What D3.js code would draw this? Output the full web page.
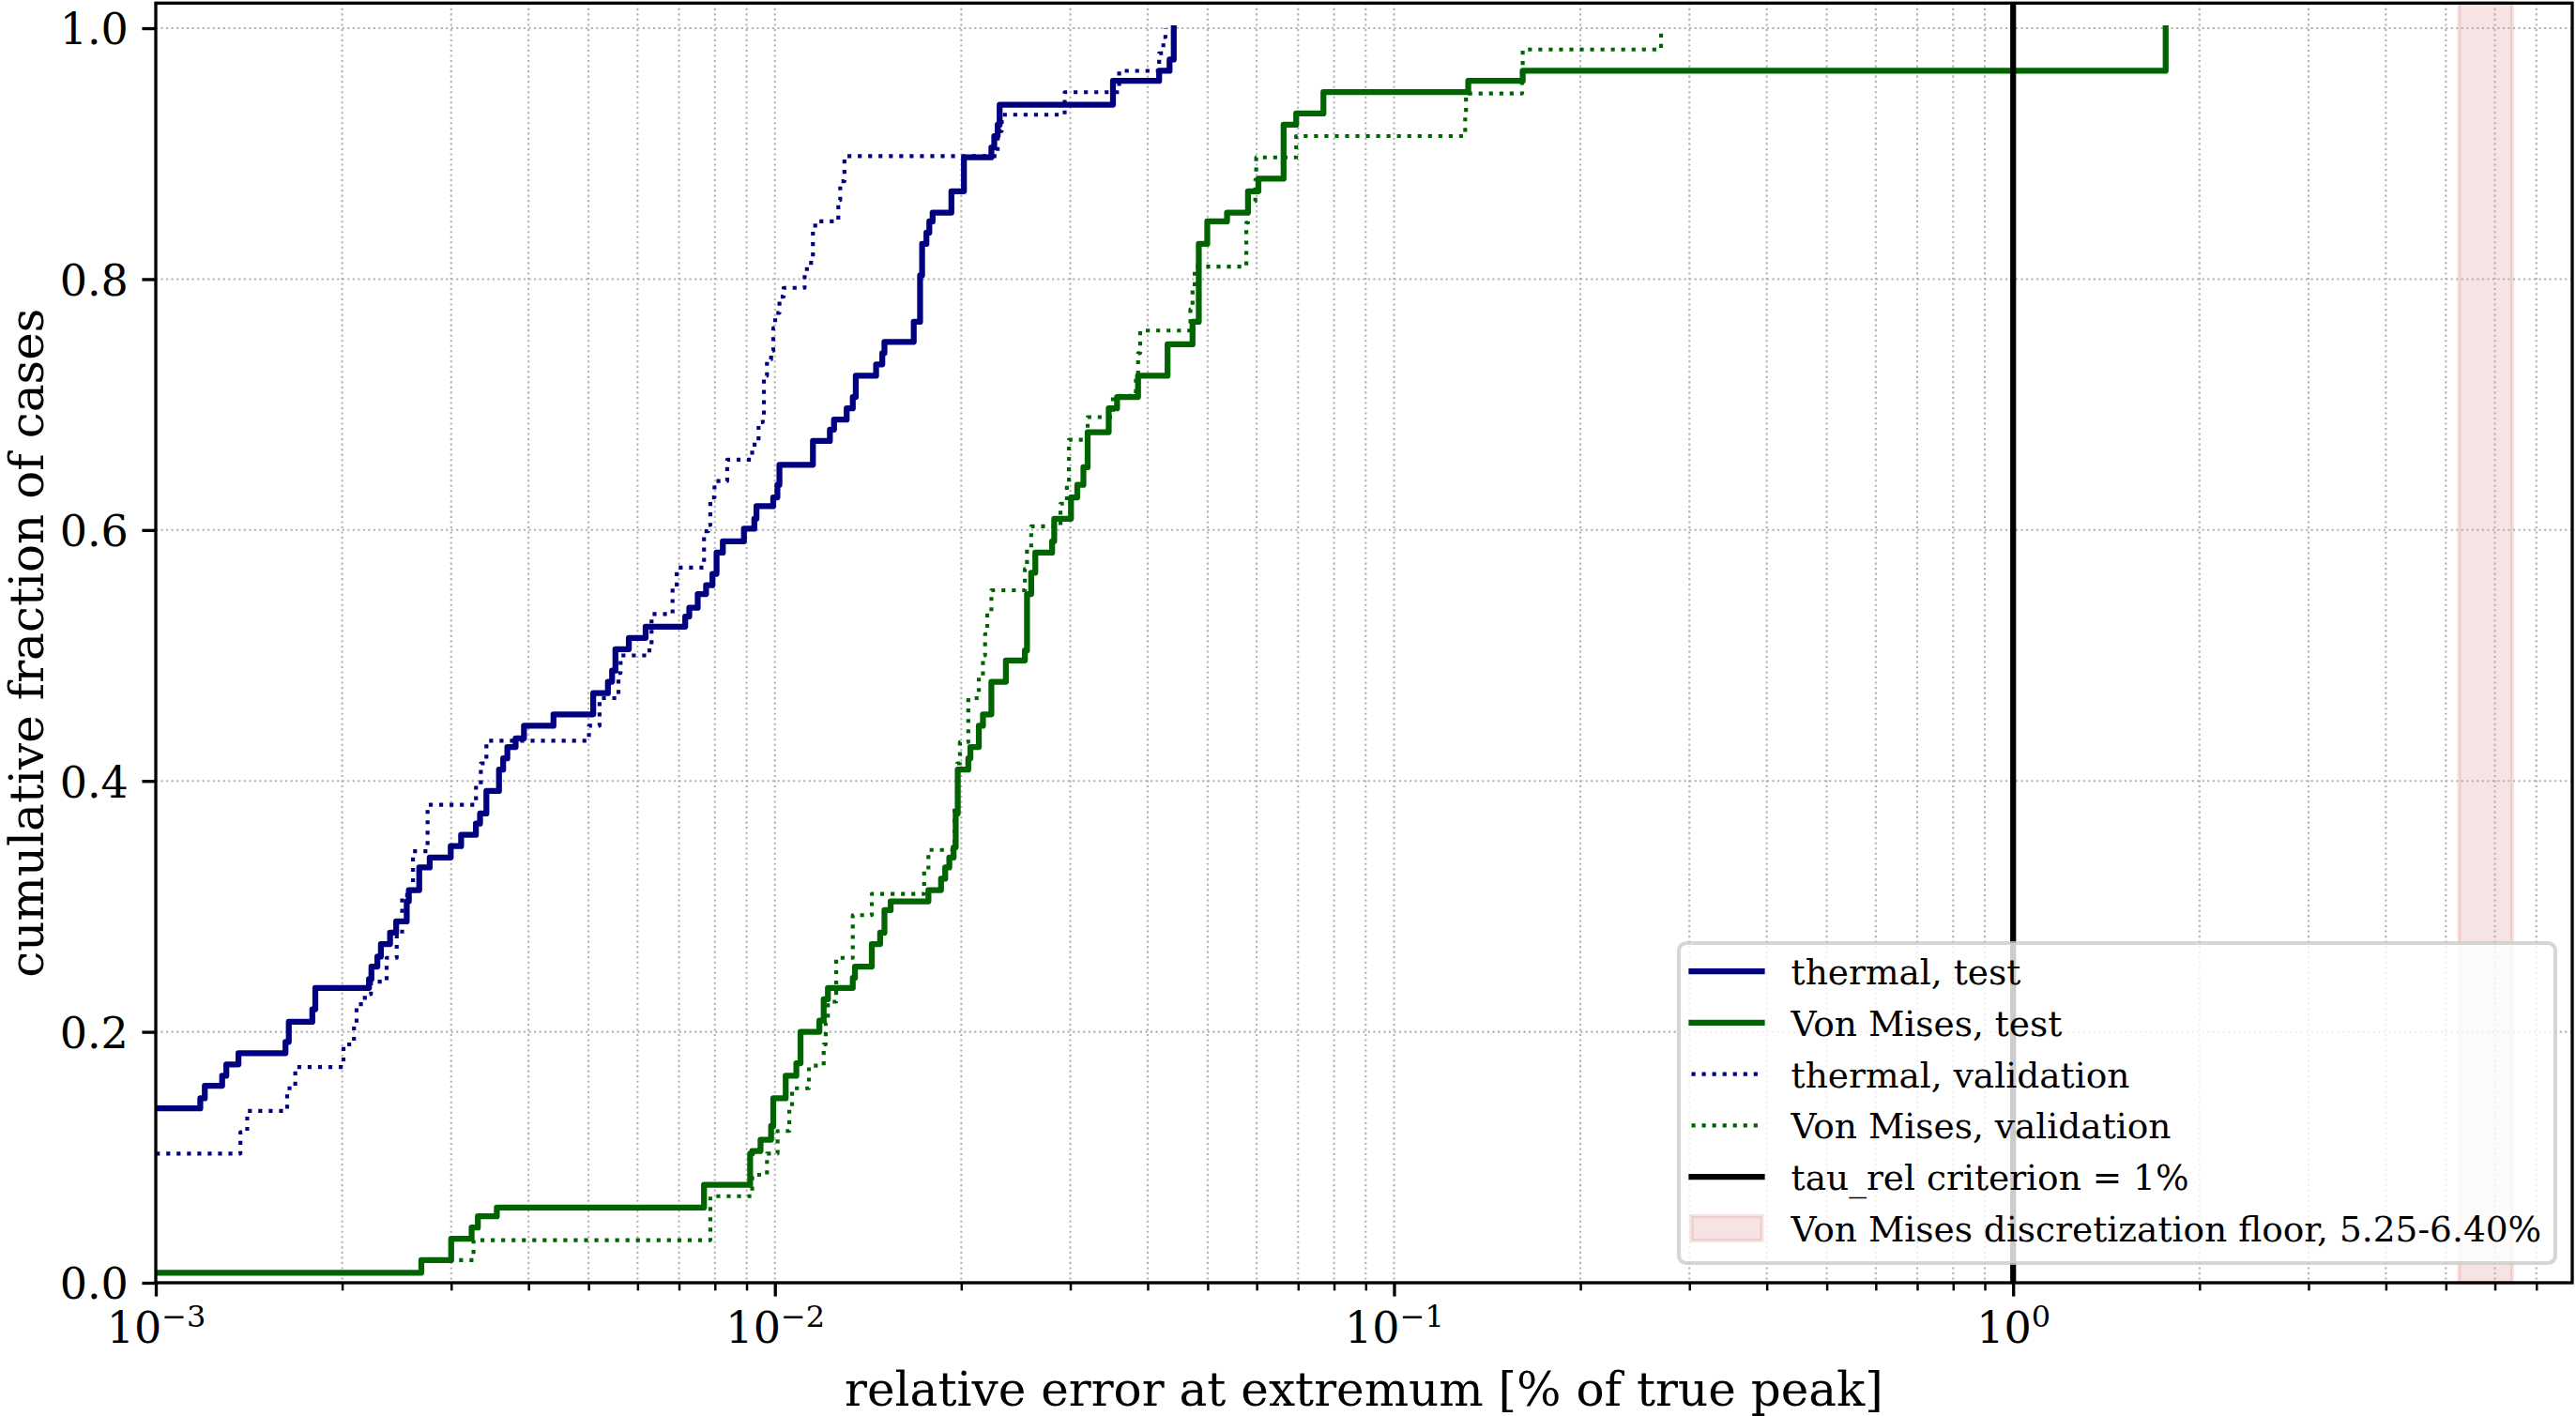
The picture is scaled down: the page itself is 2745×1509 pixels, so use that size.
<!DOCTYPE html>
<html>
<head>
<meta charset="utf-8">
<script src="https://cdn.jsdelivr.net/npm/d3@7/dist/d3.min.js"></script>
<style>
    body { margin: 0; background: #fff; }
    svg { display: block; font-family: "DejaVu Serif", serif; }
</style>
</head>
<body>
<svg id="chart" width="2745" height="1509"></svg>
<script>
// ECDF steps: [relative error in %, cumulative fraction]
// each pair = the level the curve jumps to at that error value
var thermalTest = [
    [0.0005, 0.139], [0.00118, 0.147], [0.00120, 0.157], [0.00128, 0.165], [0.00130, 0.174],
    [0.00136, 0.183], [0.00162, 0.192], [0.00164, 0.208], [0.00179, 0.218], [0.00181, 0.235],
    [0.00221, 0.242], [0.00223, 0.252], [0.00228, 0.260], [0.00231, 0.270], [0.00239, 0.279],
    [0.002445, 0.288], [0.002543, 0.304], [0.002563, 0.313], [0.002664, 0.331], [0.00277, 0.339],
    [0.002995, 0.348], [0.003113, 0.357], [0.003289, 0.366], [0.00334, 0.374], [0.00342, 0.392],
    [0.003584, 0.409], [0.00364, 0.418], [0.003697, 0.427], [0.003813, 0.434], [0.003933, 0.444],
    [0.004389, 0.453], [0.005088, 0.470], [0.005374, 0.479], [0.005458, 0.488], [0.005526, 0.505],
    [0.005809, 0.514], [0.006183, 0.523], [0.007164, 0.531], [0.007273, 0.538], [0.007505, 0.549],
    [0.007742, 0.556], [0.007927, 0.565], [0.00805, 0.582], [0.00824, 0.591], [0.008913, 0.601],
    [0.009264, 0.609], [0.009338, 0.619], [0.009938, 0.626], [0.010094, 0.636], [0.01017, 0.652],
    [0.01152, 0.671], [0.01227, 0.680], [0.01246, 0.688], [0.01306, 0.697], [0.01336, 0.706],
    [0.01351, 0.723], [0.01457, 0.732], [0.01491, 0.741], [0.01503, 0.750], [0.01676, 0.766],
    [0.01716, 0.803], [0.01729, 0.828], [0.01757, 0.837], [0.01776, 0.846], [0.01798, 0.853],
    [0.01928, 0.870], [0.02020, 0.897], [0.02237, 0.905], [0.02261, 0.914], [0.02290, 0.923],
    [0.02307, 0.939], [0.03516, 0.958], [0.04175, 0.966], [0.04340, 0.975], [0.04408, 1.0]
];

var vonMisesTest = [
    [0.0005, 0.008], [0.002685, 0.018], [0.0030, 0.035], [0.003237, 0.044], [0.003313, 0.053],
    [0.003555, 0.060], [0.007683, 0.078], [0.00912, 0.103], [0.00919, 0.105], [0.00948, 0.114],
    [0.00986, 0.125], [0.00994, 0.147], [0.01041, 0.165], [0.01083, 0.175], [0.0110, 0.200],
    [0.0118, 0.209], [0.01199, 0.226], [0.01218, 0.235], [0.01336, 0.243], [0.01347, 0.252],
    [0.01434, 0.270], [0.01479, 0.279], [0.01503, 0.297], [0.01538, 0.304], [0.0177, 0.313],
    [0.01855, 0.322], [0.01884, 0.331], [0.01913, 0.339], [0.01944, 0.347], [0.01959, 0.374],
    [0.01974, 0.409], [0.02053, 0.418], [0.02069, 0.427], [0.02135, 0.444], [0.02168, 0.453],
    [0.02237, 0.479], [0.02361, 0.496], [0.02534, 0.504], [0.02554, 0.549], [0.02594, 0.566],
    [0.02634, 0.582], [0.02804, 0.591], [0.02826, 0.609], [0.03008, 0.626], [0.03079, 0.636],
    [0.0315, 0.650], [0.032, 0.678], [0.03461, 0.697], [0.0357, 0.706], [0.0386, 0.723],
    [0.04308, 0.748], [0.04727, 0.766], [0.04838, 0.828], [0.04993, 0.846], [0.05374, 0.853],
    [0.0581, 0.870], [0.06039, 0.880], [0.06632, 0.923], [0.0695, 0.932], [0.07691, 0.949],
    [0.1318, 0.958], [0.1614, 0.966], [1.7635, 1.0]
];

var thermalVal = [
    [0.0005, 0.103], [0.00137, 0.120], [0.001405, 0.137], [0.00163, 0.155], [0.00168, 0.172],
    [0.00201, 0.190], [0.00209, 0.207], [0.00211, 0.222], [0.002176, 0.230], [0.002226, 0.240],
    [0.00236, 0.259], [0.00245, 0.276], [0.0025, 0.309], [0.002603, 0.344], [0.002748, 0.381],
    [0.00329, 0.397], [0.00335, 0.414], [0.00342, 0.432], [0.005008, 0.444], [0.005209, 0.466],
    [0.005589, 0.486], [0.005633, 0.500], [0.00627, 0.509], [0.006321, 0.533], [0.006835, 0.554],
    [0.006942, 0.570], [0.007683, 0.599], [0.007803, 0.604], [0.007865, 0.626], [0.007988, 0.639],
    [0.008375, 0.656], [0.00919, 0.668], [0.00941, 0.686], [0.00956, 0.691], [0.0096, 0.723],
    [0.00971, 0.736], [0.00986, 0.743], [0.00994, 0.761], [0.01001, 0.773], [0.01017, 0.786],
    [0.01033, 0.793], [0.01117, 0.808], [0.01144, 0.818], [0.01152, 0.838], [0.01162, 0.846],
    [0.01266, 0.863], [0.01275, 0.878], [0.01295, 0.898], [0.0229, 0.918], [0.02325, 0.931],
    [0.02938, 0.949], [0.03598, 0.966], [0.04175, 0.980], [0.04241, 0.993], [0.04274, 1.0]
];

var vonMisesVal = [
    [0.00309, 0.018], [0.00326, 0.034], [0.007865, 0.069], [0.00919, 0.086], [0.00971, 0.103],
    [0.0101, 0.121], [0.01055, 0.138], [0.01066, 0.155], [0.01135, 0.173], [0.01199, 0.190],
    [0.01208, 0.207], [0.01218, 0.224], [0.01256, 0.259], [0.01336, 0.293], [0.01434, 0.310],
    [0.01742, 0.328], [0.0177, 0.345], [0.0195, 0.379], [0.0197, 0.414], [0.0199, 0.431],
    [0.02053, 0.466], [0.02135, 0.483], [0.02168, 0.500], [0.02185, 0.517], [0.02203, 0.534],
    [0.02237, 0.552], [0.02534, 0.569], [0.02554, 0.586], [0.02594, 0.603], [0.02893, 0.621],
    [0.02962, 0.638], [0.02985, 0.672], [0.032, 0.690], [0.03516, 0.707], [0.03829, 0.724],
    [0.0386, 0.741], [0.0389, 0.759], [0.0469, 0.776], [0.04727, 0.793], [0.04765, 0.810],
    [0.05774, 0.845], [0.0581, 0.862], [0.0597, 0.879], [0.0599, 0.897], [0.0695, 0.914],
    [0.1303, 0.931], [0.1307, 0.948], [0.161, 0.966], [0.1614, 0.983], [0.27, 1.0]
];

var criterion = 1;              // tau_rel = 1 %
var floorRange = [5.25, 6.40];  // Von Mises discretization floor

var xDomain = [1e-3, 8];
var yDomain = [0, 1.02];
var xExponents = [-3, -2, -1, 0];
var yTicks = [0, 0.2, 0.4, 0.6, 0.8, 1.0];

var legendLabels = [
    "thermal, test",
    "Von Mises, test",
    "thermal, validation",
    "Von Mises, validation",
    "tau_rel criterion = 1%",
    "Von Mises discretization floor, 5.25-6.40%"
];

var navy = "#000080", green = "#006400", floorColor = "#b22222";
var pt = 300 / 72; // figure was saved at 300 dpi

var width = 2745, height = 1509;
var margin = { left: 166, right: 4, top: 3.3, bottom: 142 };
var w = width - margin.left - margin.right;
var h = height - margin.top - margin.bottom;

var svg = d3.select("#chart");
var g = svg.append("g").attr("transform", "translate(" + margin.left + "," + margin.top + ")");

var x = d3.scaleLog().domain(xDomain).range([0, w]);
var y = d3.scaleLinear().domain(yDomain).range([h, 0]);

var xMajor = xExponents.map(e => Math.pow(10, e));
var xMinor = [];
xExponents.forEach(function(e) {
    for (var k = 2; k <= 9; k++) {
        var v = k * Math.pow(10, e);
        if (v < xDomain[1]) xMinor.push(v);
    }
});

g.append("defs").append("clipPath").attr("id", "plotclip")
    .append("rect").attr("width", w).attr("height", h);

// discretization floor band (below the grid, like a matplotlib patch)
g.append("rect")
    .attr("x", x(floorRange[0]))
    .attr("width", x(floorRange[1]) - x(floorRange[0]))
    .attr("y", 0)
    .attr("height", h)
    .attr("fill", floorColor)
    .attr("fill-opacity", 0.12)
    .attr("stroke", floorColor)
    .attr("stroke-opacity", 0.12)
    .attr("stroke-width", 1 * pt);

// grid
var grid = g.append("g").attr("stroke", "#b0b0b0").attr("stroke-width", 0.5 * pt)
    .attr("stroke-dasharray", (0.5 * pt) + " " + (0.5 * pt * 1.65));
grid.selectAll(".vg")
    .data(xMajor.concat(xMinor))
    .enter().append("line")
    .attr("x1", d => x(d)).attr("x2", d => x(d))
    .attr("y1", 0).attr("y2", h);
grid.selectAll(".hg")
    .data(yTicks)
    .enter().append("line")
    .attr("x1", 0).attr("x2", w)
    .attr("y1", d => y(d)).attr("y2", d => y(d));

var step = d3.line()
    .x(d => x(d[0]))
    .y(d => y(d[1]))
    .curve(d3.curveStepAfter);

var series = [
    { data: thermalTest, color: navy, dotted: false },
    { data: vonMisesTest, color: green, dotted: false },
    { data: thermalVal, color: navy, dotted: true },
    { data: vonMisesVal, color: green, dotted: true }
];

var lines = g.append("g").attr("clip-path", "url(#plotclip)");
series.forEach(function(s) {
    lines.append("path")
        .attr("d", step(s.data))
        .attr("fill", "none")
        .attr("stroke", s.color)
        .attr("stroke-width", s.dotted ? 1 * pt : 1.5 * pt)
        .attr("stroke-dasharray", s.dotted ? (1 * pt) + " " + (1.65 * pt) : null)
        .attr("stroke-linejoin", "round")
        .attr("stroke-linecap", s.dotted ? "butt" : "square");
});

// tau_rel criterion
lines.append("line")
    .attr("x1", x(criterion)).attr("x2", x(criterion))
    .attr("y1", 0).attr("y2", h)
    .attr("stroke", "black")
    .attr("stroke-width", 1.5 * pt);

// axes
var xAxis = g.append("g").attr("transform", "translate(0," + h + ")")
    .call(d3.axisBottom(x).tickValues(xMajor).tickSize(3.5 * pt).tickFormat(""));
var xAxisMinor = g.append("g").attr("transform", "translate(0," + h + ")")
    .call(d3.axisBottom(x).tickValues(xMinor).tickSize(2 * pt).tickFormat(""));
var yAxis = g.append("g")
    .call(d3.axisLeft(y).tickValues(yTicks).tickSize(3.5 * pt).tickFormat(d3.format(".1f")));

[xAxis, xAxisMinor, yAxis].forEach(a => a.select(".domain").remove());
xAxis.selectAll("line").attr("stroke-width", 0.8 * pt);
xAxisMinor.selectAll("line").attr("stroke-width", 0.6 * pt);
yAxis.selectAll("line").attr("stroke-width", 0.8 * pt);

xAxis.selectAll(".tick text")
    .attr("y", 64)
    .attr("dy", null)
    .attr("font-size", 46)
    .attr("font-family", "DejaVu Serif")
    .attr("fill", "black")
    .each(function(d, i) {
        var t = d3.select(this);
        t.text("10");
        t.append("tspan")
            .attr("font-size", 32)
            .attr("dy", -17)
            .text("\u2212".repeat(xExponents[i] < 0 ? 1 : 0) + Math.abs(xExponents[i]));
    });

yAxis.selectAll(".tick text")
    .attr("x", -7 * pt)
    .attr("dy", null)
    .attr("y", 16.8)
    .attr("font-size", 46)
    .attr("font-family", "DejaVu Serif")
    .attr("fill", "black");

// frame
g.append("rect")
    .attr("width", w).attr("height", h)
    .attr("fill", "none")
    .attr("stroke", "black")
    .attr("stroke-width", 0.8 * pt);

// axis labels
svg.append("text")
    .attr("x", margin.left + w / 2)
    .attr("y", 1498)
    .attr("text-anchor", "middle")
    .attr("font-size", 50)
    .text("relative error at extremum [% of true peak]");

svg.append("text")
    .attr("transform", "translate(46," + (margin.top + h / 2) + ") rotate(-90)")
    .attr("text-anchor", "middle")
    .attr("font-size", 50)
    .text("cumulative fraction of cases");

// legend
var legend = svg.append("g").attr("transform", "translate(1789,1005)");
legend.append("rect")
    .attr("width", 934).attr("height", 341)
    .attr("rx", 8).attr("ry", 8)
    .attr("fill", "white").attr("fill-opacity", 0.8)
    .attr("stroke", "#cccccc").attr("stroke-opacity", 0.8)
    .attr("stroke-width", 1 * pt);

var legendItems = [
    { color: navy, dotted: false, type: "line" },
    { color: green, dotted: false, type: "line" },
    { color: navy, dotted: true, type: "line" },
    { color: green, dotted: true, type: "line" },
    { color: "black", dotted: false, type: "line" },
    { color: floorColor, type: "patch" }
];

var rows = legend.selectAll(".row")
    .data(legendItems)
    .enter().append("g")
    .attr("transform", (d, i) => "translate(0," + (30 + i * 54.8) + ")");

rows.filter(d => d.type == "line").append("line")
    .attr("x1", 13.5).attr("x2", 88.5)
    .attr("stroke", d => d.color)
    .attr("stroke-width", d => d.dotted ? 1 * pt : 1.5 * pt)
    .attr("stroke-dasharray", d => d.dotted ? (1 * pt) + " " + (1.65 * pt) : null)
    .attr("stroke-linecap", d => d.dotted ? "butt" : "square");

rows.filter(d => d.type == "patch").append("rect")
    .attr("x", 13.5).attr("y", -13)
    .attr("width", 75).attr("height", 26)
    .attr("fill", d => d.color).attr("fill-opacity", 0.12)
    .attr("stroke", d => d.color).attr("stroke-opacity", 0.12)
    .attr("stroke-width", 1 * pt);

rows.append("text")
    .attr("x", 119.6)
    .attr("y", 14)
    .attr("font-size", 37.5)
    .text((d, i) => legendLabels[i]);
</script>
</body>
</html>
